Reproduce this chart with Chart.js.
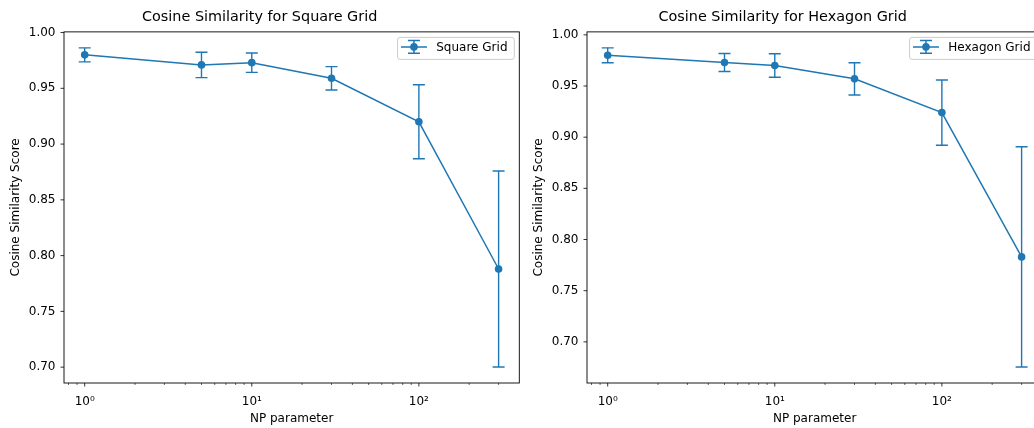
<!DOCTYPE html>
<html>
<head>
<meta charset="utf-8">
<script src="https://cdn.jsdelivr.net/npm/chart.js@4.4.1/dist/chart.umd.min.js"></script>
<style>
  html, body { margin: 0; padding: 0; background: #fff; overflow: hidden; }
  #figure { position: relative; width: 1034px; height: 428px; overflow: hidden; }
  #figure canvas { position: absolute; top: 0; }
</style>
</head>
<body>
<div id="figure">
  <canvas id="squareChart" width="530" height="428" style="left:0px;width:530px;height:428px"></canvas>
  <canvas id="hexChart" width="530" height="428" style="left:523px;width:530px;height:428px"></canvas>
</div>
<script>
// data
const npValues = [1, 5, 10, 30, 100, 300];
const squareScores = [0.980, 0.971, 0.973, 0.959, 0.920, 0.788];
const squareErrors = [0.0063, 0.0114, 0.0087, 0.0105, 0.0332, 0.0879];
const hexScores = [0.980, 0.973, 0.970, 0.957, 0.924, 0.783];
const hexErrors = [0.0073, 0.0088, 0.0115, 0.0158, 0.0319, 0.1076];

const yTickValues = [0.70, 0.75, 0.80, 0.85, 0.90, 0.95, 1.00];
const xMajorTicks = [1, 10, 100];
const xTickLabels = ['10\u2070', '10\u00b9', '10\u00b2'];

const BLUE = '#1f77b4';
Chart.defaults.font.family = "'DejaVu Sans', sans-serif";
Chart.defaults.font.size = 12;
Chart.defaults.color = '#000';

// minor tick positions 0.1..0.9, 1..9, 10..90, 100..900 (clipped to the axis later)
const xTickPositions = [];
for (let dec = 0.1; dec <= 100; dec *= 10) {
  for (let k = 1; k < 10; k++) xTickPositions.push(Math.round(k * dec * 1000) / 1000);
}

// frame, tick marks and matplotlib-style legend
const decor = {
  id: 'decor',
  afterDraw(chart) {
    const ctx = chart.ctx;
    const area = chart.chartArea;
    const xs = chart.scales.x, ys = chart.scales.y;
    ctx.save();
    ctx.strokeStyle = '#000';
    // x ticks
    xs.ticks.forEach(t => {
      const px = xs.getPixelForValue(t.value);
      if (px < area.left - 0.5 || px > area.right + 0.5) return;
      const major = xMajorTicks.includes(t.value);
      ctx.lineWidth = major ? 0.8 : 0.6;
      ctx.beginPath();
      ctx.moveTo(px, area.bottom);
      ctx.lineTo(px, area.bottom + (major ? 3.5 : 2));
      ctx.stroke();
    });
    // y ticks
    ctx.lineWidth = 0.8;
    ys.ticks.forEach(t => {
      const py = ys.getPixelForValue(t.value);
      ctx.beginPath();
      ctx.moveTo(area.left - 3.5, py);
      ctx.lineTo(area.left, py);
      ctx.stroke();
    });
    // frame
    ctx.lineWidth = 0.9;
    ctx.strokeRect(area.left, area.top, area.right - area.left, area.bottom - area.top);

    // legend
    const label = chart.data.datasets[0].label;
    ctx.font = "12px 'DejaVu Sans', sans-serif";
    const tw = ctx.measureText(label).width;
    const w = 3.4 + 26 + 9.3 + tw + 6.8, h = 22;
    const bx = area.right - 5 - w, by = area.top + 5.5;
    ctx.beginPath();
    ctx.roundRect(bx, by, w, h, 2.5);
    ctx.fillStyle = 'rgba(255,255,255,0.8)';
    ctx.fill();
    ctx.strokeStyle = '#cccccc';
    ctx.lineWidth = 1;
    ctx.stroke();
    const x0 = bx + 3.4, x1 = x0 + 26, cx = x0 + 13, cy = by + 9.5;
    ctx.strokeStyle = BLUE;
    ctx.lineWidth = 1.5;
    ctx.beginPath();
    ctx.moveTo(x0, cy); ctx.lineTo(x1, cy);
    ctx.moveTo(cx, cy - 6.3); ctx.lineTo(cx, cy + 6.3);
    ctx.moveTo(cx - 6, cy - 6.3); ctx.lineTo(cx + 6, cy - 6.3);
    ctx.moveTo(cx - 6, cy + 6.3); ctx.lineTo(cx + 6, cy + 6.3);
    ctx.stroke();
    ctx.fillStyle = BLUE;
    ctx.beginPath();
    ctx.arc(cx, cy, 3.8, 0, Math.PI * 2);
    ctx.fill();
    ctx.fillStyle = '#000';
    ctx.textBaseline = 'middle';
    ctx.textAlign = 'left';
    ctx.fillText(label, x1 + 9.3, by + 10);
    ctx.restore();
  }
};

function makeChart(id, title, label, scores, errors) {
  const lows = scores.map((v, i) => v - errors[i]);
  const highs = scores.map((v, i) => v + errors[i]);
  // matplotlib's 5% autoscale margins
  const yLo = Math.min(...lows), yHi = Math.max(...highs);
  const yPad = (yHi - yLo) * 0.05;
  const lx0 = Math.log10(Math.min(...npValues)), lx1 = Math.log10(Math.max(...npValues));
  const xPad = (lx1 - lx0) * 0.05;
  const xMin = Math.pow(10, lx0 - xPad), xMax = Math.pow(10, lx1 + xPad);

  const whiskers = [];
  npValues.forEach((x, i) => {
    whiskers.push({ x: x, y: lows[i] }, { x: x, y: highs[i] }, { x: x, y: null });
  });

  return new Chart(document.getElementById(id), {
    type: 'line',
    data: {
      datasets: [
        {
          label: label,
          data: npValues.map((x, i) => ({ x: x, y: scores[i] })),
          borderColor: BLUE,
          backgroundColor: BLUE,
          borderWidth: 1.5,
          pointRadius: 3.8,
          pointBorderWidth: 0,
          pointBackgroundColor: BLUE,
          tension: 0,
          order: 1
        },
        {
          label: label + ' error',
          data: whiskers,
          borderColor: BLUE,
          borderWidth: 1.4,
          pointStyle: 'line',
          pointRadius: 6,
          pointBorderWidth: 1.4,
          pointBorderColor: BLUE,
          spanGaps: false,
          tension: 0,
          order: 2
        }
      ]
    },
    options: {
      responsive: false,
      animation: false,
      devicePixelRatio: 1,
      layout: { padding: { left: 0, right: 10.7, top: 0, bottom: 0 } },
      plugins: {
        legend: { display: false },
        tooltip: { enabled: false },
        title: {
          display: true,
          text: title,
          color: '#000',
          font: { size: 14.4, weight: 'normal' },
          padding: { top: 8.4, bottom: 6.2 }
        }
      },
      scales: {
        x: {
          type: 'logarithmic',
          position: 'bottom',
          bounds: 'data',
          min: xMin,
          max: xMax,
          offset: false,
          grid: { display: false, drawTicks: false },
          border: { display: false },
          ticks: {
            autoSkip: false,
            maxRotation: 0,
            padding: 11.5,
            color: '#000',
            callback: (v) => {
              const k = xMajorTicks.indexOf(v);
              return k >= 0 ? xTickLabels[k] : '';
            }
          },
          title: { display: true, text: 'NP parameter', color: '#000', padding: { top: 0, bottom: 2 } },
          afterBuildTicks: (s) => {
            s.ticks = xTickPositions.filter(v => v >= xMin && v <= xMax).map(v => ({ value: v }));
          },
          afterFit: (s) => { s.height = 45; }
        },
        y: {
          type: 'linear',
          bounds: 'data',
          min: yLo - yPad,
          max: yHi + yPad,
          grid: { display: false, drawTicks: false },
          border: { display: false },
          ticks: {
            padding: 8.5,
            color: '#000',
            callback: (v) => Number(v).toFixed(2)
          },
          title: { display: true, text: 'Cosine Similarity Score', color: '#000', padding: { top: 9, bottom: 0 } },
          afterBuildTicks: (s) => { s.ticks = yTickValues.map(v => ({ value: v })); },
          afterFit: (s) => { s.width = 64; }
        }
      }
    },
    plugins: [decor]
  });
}

makeChart('squareChart', 'Cosine Similarity for Square Grid', 'Square Grid', squareScores, squareErrors);
makeChart('hexChart', 'Cosine Similarity for Hexagon Grid', 'Hexagon Grid', hexScores, hexErrors);
</script>
</body>
</html>
